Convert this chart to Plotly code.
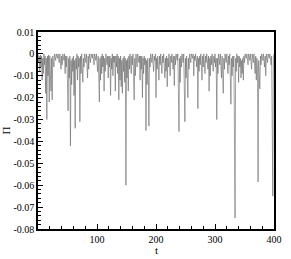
import plotly.graph_objects as go

# time samples
t = [0, 1, 2, 3, 4, 5, 6, 7, 8, 9,
     10, 11, 12, 13, 14, 15, 16, 17, 18, 19,
     20, 22, 23, 24, 25, 27, 28, 30, 31, 33,
     34, 36, 37, 39, 40, 41, 42, 44, 45, 46,
     47, 48, 49, 51, 52, 53, 54, 55, 56, 57,
     58, 59, 60, 61, 62, 63, 64, 65, 66, 67,
     68, 69, 70, 71, 72, 73, 74, 76, 77, 78,
     79, 81, 82, 84, 85, 86, 87, 89, 90, 92,
     93, 95, 96, 98, 99, 101, 102, 104, 105, 106,
     107, 108, 109, 110, 111, 112, 113, 114, 115, 117,
     118, 119, 120, 121, 122, 123, 124, 125, 126, 127,
     128, 129, 130, 131, 132, 133, 134, 135, 136, 137,
     138, 139, 140, 141, 142, 143, 144, 145, 146, 147,
     148, 149, 150, 151, 152, 153, 154, 155, 156, 158,
     159, 160, 161, 163, 164, 165, 166, 168, 169, 171,
     172, 173, 174, 175, 176, 177, 178, 179, 180, 181,
     182, 183, 184, 185, 186, 187, 188, 189, 190, 191,
     193, 194, 196, 197, 198, 199, 200, 201, 202, 203,
     205, 206, 207, 208, 210, 211, 212, 213, 215, 216,
     217, 218, 219, 220, 221, 222, 224, 225, 226, 227,
     229, 230, 231, 232, 233, 234, 236, 237, 239, 240,
     241, 242, 243, 244, 246, 247, 249, 250, 251, 252,
     254, 255, 256, 257, 259, 260, 262, 263, 264, 265,
     266, 267, 269, 270, 271, 272, 273, 274, 275, 276,
     278, 279, 280, 281, 283, 284, 285, 286, 288, 289,
     290, 291, 292, 293, 294, 295, 297, 298, 299, 300,
     301, 302, 303, 304, 305, 306, 308, 309, 311, 312,
     314, 315, 316, 317, 319, 320, 322, 323, 324, 325,
     327, 328, 329, 330, 331, 332, 334, 335, 336, 337,
     338, 339, 340, 341, 342, 343, 344, 345, 346, 347,
     348, 349, 350, 351, 353, 354, 356, 357, 359, 360,
     362, 363, 365, 366, 368, 369, 370, 371, 372, 373,
     374, 375, 376, 377, 378, 379, 381, 382, 384, 385,
     386, 387, 389, 390, 392, 393, 395, 396, 398, 399,
     400]

# Pi values
pi = [0, -0.004, -0.001, -0.008, -0.0005, -0.006, -0.001, -0.012, -0.002, -0.009,
      0, -0.005, -0.001, -0.018, -0.002, -0.030, -0.001, -0.010, -0.0005, -0.022,
      -0.001, -0.017, -0.002, -0.021, -0.001, -0.006, 0, -0.003, 0, -0.002,
      0, -0.004, 0, -0.007, -0.001, -0.005, 0, -0.003, 0, -0.009,
      -0.001, -0.006, -0.001, -0.026, -0.002, -0.011, -0.001, -0.042, -0.003, -0.014,
      -0.002, -0.008, -0.001, -0.019, -0.003, -0.034, -0.002, -0.007, 0, -0.012,
      -0.001, -0.006, -0.002, -0.031, -0.001, -0.009, 0, -0.013, -0.002, -0.006,
      0, -0.004, 0, -0.011, -0.001, -0.007, 0, -0.004, 0, -0.002,
      0, -0.005, 0, -0.003, 0, -0.008, -0.001, -0.022, -0.002, -0.012,
      -0.001, -0.009, 0, -0.006, -0.001, -0.017, -0.002, -0.008, 0, -0.005,
      -0.001, -0.011, -0.001, -0.006, -0.001, -0.019, -0.002, -0.007, 0, -0.010,
      -0.001, -0.004, -0.001, -0.017, -0.001, -0.006, 0, -0.009, -0.001, -0.021,
      -0.002, -0.012, -0.001, -0.015, -0.003, -0.018, -0.002, -0.008, -0.001, -0.013,
      -0.002, -0.060, -0.003, -0.011, -0.002, -0.017, -0.001, -0.007, 0, -0.009,
      -0.001, -0.005, 0, -0.021, -0.002, -0.010, 0, -0.006, 0, -0.004,
      -0.001, -0.012, -0.001, -0.007, -0.001, -0.020, -0.002, -0.009, -0.001, -0.005,
      -0.002, -0.035, -0.003, -0.014, -0.002, -0.009, -0.033, -0.002, -0.006, 0,
      -0.004, 0, -0.008, -0.001, -0.003, 0, -0.020, -0.002, -0.007, -0.001,
      -0.012, -0.001, -0.005, 0, -0.009, -0.001, -0.004, 0, -0.011, -0.002,
      -0.008, -0.001, -0.015, -0.002, -0.006, 0, -0.010, -0.001, -0.004, 0,
      -0.007, -0.001, -0.0145, -0.001, -0.005, 0, -0.003, 0, -0.0355, -0.002,
      -0.013, -0.001, -0.006, 0, -0.004, 0, -0.031, -0.002, -0.011, -0.001,
      -0.020, -0.002, -0.007, 0, -0.004, 0, -0.002, 0, -0.010, -0.001,
      -0.003, 0, -0.006, -0.001, -0.025, -0.002, -0.008, -0.001, -0.005, 0,
      -0.012, -0.001, -0.006, 0, -0.009, -0.001, -0.004, 0, -0.007, -0.001,
      -0.017, -0.002, -0.010, -0.001, -0.005, 0, -0.008, -0.001, -0.004, 0,
      -0.006, -0.002, -0.030, -0.002, -0.009, 0, -0.005, 0, -0.011, -0.001,
      -0.018, -0.002, -0.007, 0, -0.004, 0, -0.009, -0.001, -0.005, 0,
      -0.023, -0.002, -0.010, -0.001, -0.006, -0.001, -0.075, -0.002, -0.008, 0,
      -0.004, -0.001, -0.013, -0.001, -0.006, -0.002, -0.011, -0.003, -0.009, -0.002,
      -0.012, -0.001, -0.004, 0, -0.002, 0, -0.005, 0, -0.003, 0,
      -0.007, 0, -0.004, 0, -0.009, -0.001, -0.012, -0.002, -0.006, -0.0585,
      -0.003, -0.010, -0.016, -0.001, -0.005, 0, -0.003, 0, -0.006, -0.001,
      -0.010, 0, -0.004, 0, -0.002, 0, -0.005, -0.001, -0.065, -0.002,
      0]

assert len(t) == len(pi)

x_tickvals = [100, 200, 300, 400]
y_tickvals = [0.01, 0, -0.01, -0.02, -0.03, -0.04, -0.05, -0.06, -0.07, -0.08]
y_ticktext = ["0.01", "0", "-0.01", "-0.02", "-0.03", "-0.04", "-0.05", "-0.06", "-0.07", "-0.08"]

fig = go.Figure()
fig.add_trace(go.Scatter(x=t, y=pi, mode="lines",
                         line=dict(color="#666666", width=0.6),
                         showlegend=False, hoverinfo="skip"))

font = dict(family="Liberation Serif, Times New Roman, serif", size=10, color="black")

fig.update_layout(
    width=291, height=259,
    margin=dict(l=38, r=17, t=32, b=30),
    paper_bgcolor="white", plot_bgcolor="white",
    font=font,
    xaxis=dict(range=[0, 400], tickvals=x_tickvals, ticktext=[str(v) for v in x_tickvals],
               ticks="inside", ticklen=5, tickwidth=1, tickcolor="black",
               showline=True, linecolor="black", linewidth=1.5, mirror=True,
               showgrid=False, zeroline=False, automargin=False,
               minor=dict(dtick=20, tick0=0, ticks="inside", ticklen=3, tickcolor="black", showgrid=False),
               tickfont=font),
    yaxis=dict(range=[-0.08, 0.01], tickvals=y_tickvals, ticktext=y_ticktext,
               ticks="inside", ticklen=5, tickwidth=1, tickcolor="black",
               showline=True, linecolor="black", linewidth=1.5, mirror=True,
               showgrid=False, zeroline=False, automargin=False,
               minor=dict(dtick=0.002, tick0=0, ticks="inside", ticklen=3, tickcolor="black", showgrid=False),
               title=dict(text="Π", font=dict(size=11), standoff=2),
               tickfont=font),
    annotations=[dict(text="t", xref="paper", yref="paper", x=0.5, y=0, yshift=-21,
                      xanchor="center", yanchor="middle", showarrow=False,
                      font=dict(family="Liberation Serif, Times New Roman, serif", size=11, color="black"))],
)

fig.write_html("out.html", config={"displayModeBar": False},
               post_script="document.body.style.margin='0';document.body.style.padding='0';")
